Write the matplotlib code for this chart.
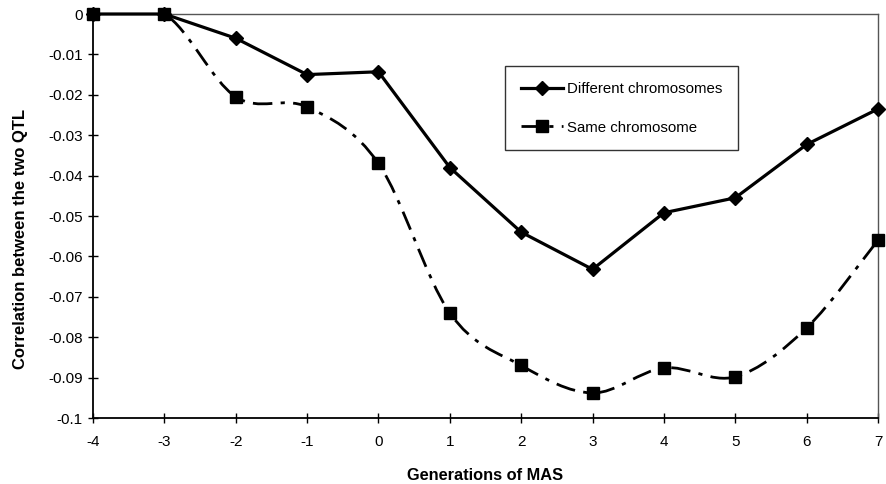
import matplotlib
matplotlib.use("Agg")
import matplotlib.pyplot as plt
import numpy as np
from matplotlib.path import Path
from matplotlib.patches import PathPatch
from matplotlib.lines import Line2D

plt.rcParams['font.family'] = ['Liberation Sans', 'DejaVu Sans']

generations = [-4, -3, -2, -1, 0, 1, 2, 3, 4, 5, 6, 7]
different_chrom = [0, 0, -0.006, -0.015, -0.0143, -0.038, -0.054, -0.0632,
                   -0.0492, -0.0455, -0.0323, -0.0235]
same_chrom = [0, 0, -0.0205, -0.023, -0.037, -0.074, -0.087, -0.0938,
              -0.0876, -0.0898, -0.0777, -0.056]
y_ticks = [0, -0.01, -0.02, -0.03, -0.04, -0.05, -0.06, -0.07, -0.08, -0.09, -0.1]
y_tick_labels = ['0', '-0.01', '-0.02', '-0.03', '-0.04', '-0.05', '-0.06',
                 '-0.07', '-0.08', '-0.09', '-0.1']


def smooth_path(xs, ys):
    """Catmull-Rom style Bezier path through the points (spreadsheet smoothing)."""
    pts = np.column_stack([xs, ys]).astype(float)
    n = len(pts)
    verts = [pts[0]]
    codes = [Path.MOVETO]
    for i in range(n - 1):
        p0 = pts[i - 1] if i > 0 else pts[i]
        p1 = pts[i]
        p2 = pts[i + 1]
        p3 = pts[i + 2] if i + 2 < n else pts[i + 1]
        c1 = p1 + (p2 - p0) / 6.0
        c2 = p2 - (p3 - p1) / 6.0
        verts += [c1, c2, p2]
        codes += [Path.CURVE4] * 3
    return Path(verts, codes)


fig = plt.figure(figsize=(8.87, 4.84), dpi=100)
ax = fig.add_axes([93 / 887, 1 - 418 / 484, (878 - 93) / 887, (418 - 14) / 484])

dash = (0, (7, 3, 1.5, 3))

# Same chromosome: smoothed dash-dot curve with square markers
patch = PathPatch(smooth_path(generations, same_chrom), facecolor='none',
                  edgecolor='black', lw=2.0, linestyle=dash, zorder=3)
ax.add_patch(patch)
ax.plot(generations, same_chrom, linestyle='none', marker='s', ms=8,
        color='black', zorder=4, clip_on=False)

# Different chromosomes: solid line with diamond markers
ax.plot(generations, different_chrom, color='black', lw=2.3, marker='D', ms=7.5,
        zorder=5, clip_on=False)

ax.set_xlim(-4, 7)
ax.set_ylim(-0.1, 0)
ax.set_xticks(generations)
ax.set_xticklabels([str(g) for g in generations])
ax.set_yticks(y_ticks)
ax.set_yticklabels(y_tick_labels)
ax.tick_params(direction='inout', length=7, width=1, labelsize=11)
ax.tick_params(axis='x', pad=9)
ax.tick_params(axis='y', pad=4)

for side in ('left', 'bottom'):
    ax.spines[side].set_color('black')
    ax.spines[side].set_linewidth(1.3)
for side in ('top', 'right'):
    ax.spines[side].set_color('#555555')
    ax.spines[side].set_linewidth(1.0)
    ax.spines[side].set_linestyle((0, (4, 1)))

ax.set_xlabel('Generations of MAS', fontsize=11.8, fontweight='bold')
ax.xaxis.set_label_coords(0.5, -(476 - 418) / 404, transform=ax.transAxes)
ax.xaxis.label.set_va('center')
ax.set_ylabel('Correlation between the two QTL', fontsize=12.0, fontweight='bold')
ax.yaxis.set_label_coords((20 - 93) / 785, 1 - (239 - 14) / 404, transform=ax.transAxes)
ax.yaxis.label.set_va('center')

handles = [
    Line2D([], [], color='black', lw=2.3, marker='D', ms=7.5),
    Line2D([], [], color='black', lw=2.0, linestyle=dash, marker='s', ms=8),
]
leg = ax.legend(handles, ['Different chromosomes', 'Same chromosome'],
                loc='upper left', bbox_to_anchor=((505 - 93) / 785, 1 - (66 - 14) / 404),
                frameon=True, fancybox=False, edgecolor='black', fontsize=10.8,
                labelspacing=1.65, borderpad=1.05, handlelength=2.8,
                handletextpad=0.3, borderaxespad=0)
leg.get_frame().set_linewidth(1.0)

fig.savefig('out.png', dpi=100)
